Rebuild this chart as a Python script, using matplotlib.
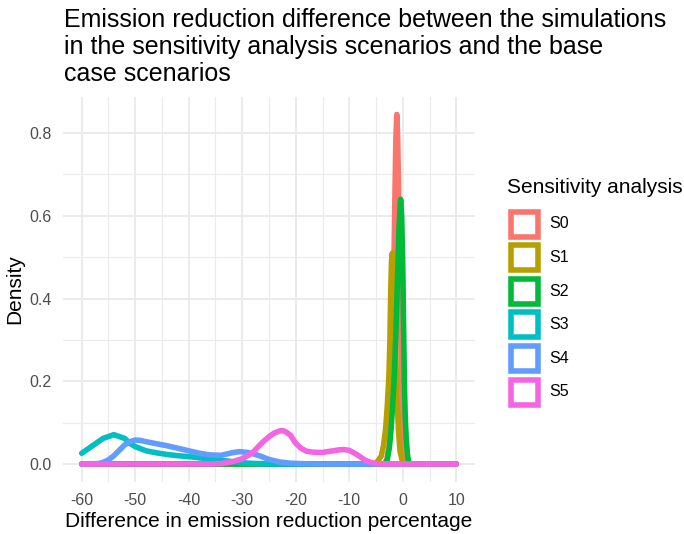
import matplotlib
matplotlib.use('Agg')
import matplotlib.pyplot as plt
from matplotlib.patches import Rectangle

plt.rcParams.update({
    'font.family': ['Liberation Sans', 'DejaVu Sans'],
    'font.size': 11.5,
})

# ── density curves, one per sensitivity scenario ─────────────────────────────
scenarios = ['S0', 'S1', 'S2', 'S3', 'S4', 'S5']
colors = ['#F8766D', '#B79F00', '#00BA38', '#00BFC4', '#619CFF', '#F564E3']

s0_x = [-60, -3.5, -3.0, -2.6, -2.3, -2.0, -1.75, -1.5, -1.3, -1.12, -0.95,
        -0.75, -0.5, -0.25, 0.0, 0.3, 0.7, 1.2, 10]
s0_y = [0, 0, 0.01, 0.04, 0.10, 0.22, 0.40, 0.62, 0.78, 0.845, 0.79,
        0.64, 0.42, 0.22, 0.10, 0.04, 0.01, 0, 0]

s1_x = [-60, -5.2, -4.6, -4.0, -3.6, -3.2, -2.9, -2.6, -2.4, -2.25, -2.1,
        -1.95, -1.8, -1.6, -1.35, -1.1, -0.8, -0.5, -0.1, 0.4, 10]
s1_y = [0, 0, 0.008, 0.02, 0.045, 0.085, 0.14, 0.21, 0.30, 0.42, 0.49,
        0.51, 0.48, 0.40, 0.28, 0.17, 0.08, 0.03, 0.008, 0, 0]

s2_x = [-60, -3.4, -2.9, -2.5, -2.2, -1.9, -1.6, -1.3, -1.0, -0.7, -0.4,
        -0.2, 0.0, 0.15, 0.3, 0.45, 0.65, 0.9, 1.2, 10]
s2_y = [0, 0, 0.01, 0.04, 0.08, 0.14, 0.21, 0.31, 0.44, 0.57, 0.64,
        0.60, 0.48, 0.34, 0.20, 0.12, 0.06, 0.02, 0, 0]

s3_x = [-60, -58, -56, -54, -52, -51, -50, -48, -46, -44, -42, -40, -38,
        -36, -34, -32, -30, -28, -25, -20, 10]
s3_y = [0.026, 0.044, 0.062, 0.071, 0.062, 0.050, 0.042, 0.032, 0.027,
        0.023, 0.020, 0.018, 0.015, 0.012, 0.009, 0.006, 0.003, 0.0015,
        0.0004, 0, 0]

s4_x = [-60, -57, -56, -55, -54, -53, -52, -51, -50, -49, -48, -46, -44,
        -42, -40, -38, -36, -34, -32, -30.5, -29, -27, -25, -23, -21, -18,
        -15, 10]
s4_y = [0, 0.001, 0.004, 0.010, 0.020, 0.033, 0.046, 0.054, 0.058, 0.057,
        0.054, 0.049, 0.044, 0.038, 0.032, 0.026, 0.022, 0.021, 0.027,
        0.030, 0.028, 0.021, 0.011, 0.005, 0.002, 0.0005, 0, 0]

s5_x = [-60, -36, -34, -32, -30, -29, -28, -27, -26, -25, -24, -23, -22.5,
        -22, -21, -20, -19, -18, -17, -16, -15, -14, -13, -12, -11, -10, -9,
        -8, -7, -6, -5, -4, 10]
s5_y = [0, 0, 0.001, 0.005, 0.013, 0.020, 0.028, 0.042, 0.055, 0.066,
        0.075, 0.080, 0.081, 0.079, 0.070, 0.050, 0.038, 0.031, 0.029, 0.028,
        0.028, 0.030, 0.032, 0.034, 0.035, 0.033, 0.026, 0.018, 0.009, 0.004,
        0.001, 0, 0]

curves_x = [s0_x, s1_x, s2_x, s3_x, s4_x, s5_x]
curves_y = [s0_y, s1_y, s2_y, s3_y, s4_y, s5_y]

x_ticks = [-60, -50, -40, -30, -20, -10, 0, 10]
x_minor = [-55, -45, -35, -25, -15, -5, 5]
y_ticks = [0.0, 0.2, 0.4, 0.6, 0.8]
y_minor = [0.1, 0.3, 0.5, 0.7]

title = ('Emission reduction difference between the simulations\n'
         'in the sensitivity analysis scenarios and the base\n'
         'case scenarios')

# ── figure in pixel terms ────────────────────────────────────────────────────
W, H = 684, 534
fig = plt.figure(figsize=(W / 100, H / 100), dpi=100, facecolor='white')


def fx(px):
    return px / W


def fy(py):
    return 1 - py / H


P_L, P_R, P_T, P_B = 63, 475, 97, 481.5
ax = fig.add_axes([fx(P_L), fy(P_B), (P_R - P_L) / W, (P_B - P_T) / H])

GRID = '#EBEBEB'
for v in x_minor:
    ax.axvline(v, color=GRID, lw=0.8, zorder=0)
for v in y_minor:
    ax.axhline(v, color=GRID, lw=0.8, zorder=0)
for v in x_ticks:
    ax.axvline(v, color=GRID, lw=1.4, zorder=0)
for v in y_ticks:
    ax.axhline(v, color=GRID, lw=1.4, zorder=0)

for xs, ys, c in zip(curves_x, curves_y, colors):
    ax.plot(xs, ys, color=c, lw=4, solid_joinstyle='round',
            solid_capstyle='round', zorder=2)

# ggplot-style 5% expansion of the data range
xmin = min(min(v) for v in curves_x)
xmax = max(max(v) for v in curves_x)
ymax = max(max(v) for v in curves_y)
ax.set_xlim(xmin - 0.05 * (xmax - xmin), xmax + 0.05 * (xmax - xmin))
ax.set_ylim(-0.05 * ymax, ymax * 1.05)

ax.set_xticks(x_ticks)
ax.set_xticklabels([str(t) for t in x_ticks])
ax.set_yticks(y_ticks)
ax.set_yticklabels([f'{t:.1f}' for t in y_ticks])
ax.tick_params(length=0, labelsize=11.5, labelcolor='#4D4D4D', pad=8)
for s in ax.spines.values():
    s.set_visible(False)

ax.set_xlabel('Difference in emission reduction percentage', fontsize=15,
              labelpad=3)
ax.set_ylabel('Density', fontsize=15, labelpad=4)

fig.text(fx(64), fy(8), title, ha='left', va='top', fontsize=18,
         linespacing=1.15)

# ── legend ───────────────────────────────────────────────────────────────────
fig.text(fx(507), fy(187), 'Sensitivity analysis', ha='left', va='center',
         fontsize=15)
KEY_W, KEY_H, KEY_STEP = 27, 25, 33.6
for i, (lab, c) in enumerate(zip(scenarios, colors)):
    cy = 224 + i * KEY_STEP
    fig.patches.append(Rectangle(
        (fx(510.5), fy(cy + KEY_H / 2)), KEY_W / W, KEY_H / H,
        transform=fig.transFigure, facecolor='white', edgecolor=c, lw=4))
    fig.text(fx(549), fy(cy), lab, ha='left', va='center', fontsize=11.5)

fig.savefig('out.png', dpi=100, facecolor='white')
